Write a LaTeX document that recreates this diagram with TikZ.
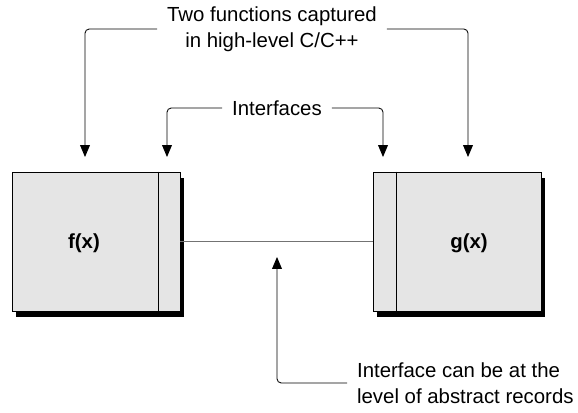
\documentclass[tikz,border=0pt]{standalone}
\usepackage{fontspec}
\setmainfont{Liberation Sans}
\usetikzlibrary{arrows.meta,shadows}

\begin{document}
\begin{tikzpicture}[
    x=0.025cm, y=-0.025cm,
    fnbox/.style={draw=black, line width=0.6pt, fill=black!10, minimum width=4.2cm, minimum height=3.475cm,
        drop shadow={shadow xshift=2.8pt, shadow yshift=-4.6pt, fill=black, opacity=1}},
    note/.style={font=\fontsize{14.5}{18.4}\selectfont, align=center, inner sep=7pt},
    fnlabel/.style={font=\fontsize{14.5}{18.4}\selectfont\bfseries},
    arrow/.style={-{Triangle[width=7pt,length=8.5pt]}, line width=0.6pt, rounded corners=3pt},
]
\useasboundingbox (0,0) rectangle (578,413);

% Link between the two functions
\node[fnbox] (fbox) at (96,241.5) {};
\node[fnbox] (gbox) at (457,241.5) {};
\draw[black!55, line width=0.6pt] (fbox.east) -- (gbox.west);

% Interface strips
\draw[line width=0.6pt] ([xshift=-15.6pt]fbox.north east) -- ([xshift=-15.6pt]fbox.south east);
\draw[line width=0.6pt] ([xshift=17pt]gbox.north west) -- ([xshift=17pt]gbox.south west);

\node[fnlabel] (fname) at (84,243) {f(x)};
\node[fnlabel] (gname) at (469,243) {g(x)};

% Notes
\node[note] (two) at (272,29) {Two functions captured\\in high-level C/C++};
\node[note] (ifc) at (277,108) {Interfaces};
\node[note, anchor=west, align=left] (rec) at (347,383) {Interface can be at the\\level of abstract records};

\coordinate (fin) at (85,157);
\coordinate (fiin) at (167,157);
\coordinate (giin) at (383,157);
\coordinate (gin) at (468,157);
\coordinate (lnk) at (277,257);

\draw[arrow] (two.west) -| (fin);
\draw[arrow] (two.east) -| (gin);
\draw[arrow] (ifc.west) -| (fiin);
\draw[arrow] (ifc.east) -| (giin);
\draw[arrow] (rec.west) -| (lnk);

\end{tikzpicture}
\end{document}
